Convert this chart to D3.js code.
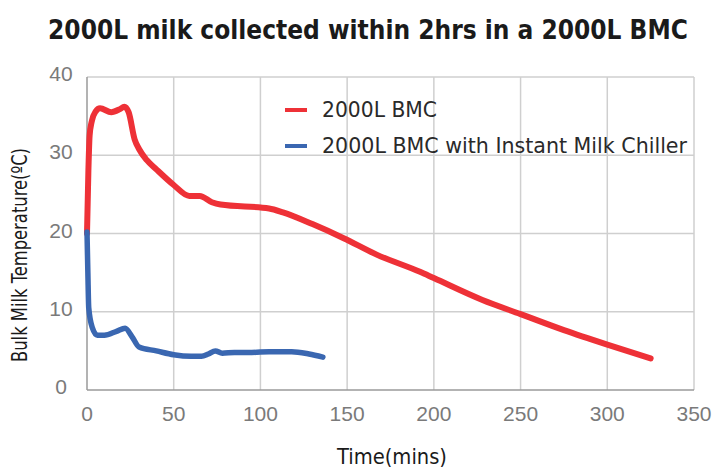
<!DOCTYPE html>
<html><head><meta charset="utf-8">
<script src="https://cdn.jsdelivr.net/npm/d3@7"></script>
<style>body{margin:0;background:#fff}svg{display:block}</style>
</head><body>
<svg id="chart" width="717" height="468"></svg>
<script>
const title = "2000L milk collected within 2hrs in a 2000L BMC";
const xTicks = [0,50,100,150,200,250,300,350];
const yTicks = [0,10,20,30,40];
const seriesNames = ["2000L BMC","2000L BMC with Instant Milk Chiller"];
const seriesColors = ["#ee3137","#3a67b1"];
const bmcTime = [0,0.8,1.5,2.7,5,7.5,14,19,21.5,24,27.5,30,34.4,40,50,59,65,72,77,105,113,130,148,167,192,200,228,250,275,300,325];
const bmcTemp = [20,28,32.5,34.3,35.6,36,35.5,35.9,36.2,35.5,32,30.8,29.4,28.2,26.2,24.8,24.8,24,23.7,23.2,22.7,21.2,19.4,17.3,15.1,14.3,11.5,9.7,7.65,5.8,4.05];
const chillTime = [0,0.5,1,3,6,10,17,22,26,30,40,50,60,66,70,74,78,85,95,105,118,128,136];
const chillTemp = [20.2,15,10.5,8,7,7,7.5,7.9,6.8,5.5,5,4.5,4.3,4.3,4.6,5,4.7,4.8,4.8,4.9,4.9,4.6,4.2];

const svg = d3.select("#chart");
const L = 87, R = 694, T = 77, B = 390;
const x = d3.scaleLinear().domain([0,350]).range([L,R]);
const y = d3.scaleLinear().domain([0,40]).range([B,T]);

const labFont = "'Liberation Sans Narrow','DejaVu Sans Condensed','Liberation Sans'";
const tt = svg.append("text").attr("x",368).attr("y",39).attr("text-anchor","middle")
  .attr("font-family",labFont)
  .attr("font-weight","bold").attr("font-size",29).attr("fill","#1a1a1a").text(title);
const w = tt.node().getComputedTextLength();
if (w > 0) tt.attr("font-size", Math.min(32, 29*640/w));

// grid
svg.append("g").selectAll("line").data(yTicks.filter(d=>d>0)).join("line")
  .attr("x1",L).attr("x2",R).attr("y1",d=>y(d)).attr("y2",d=>y(d))
  .attr("stroke","#cfcfcf").attr("stroke-width",1.5);
svg.append("g").selectAll("line").data(xTicks.filter(d=>d>0)).join("line")
  .attr("y1",T).attr("y2",B).attr("x1",d=>x(d)).attr("x2",d=>x(d))
  .attr("stroke","#cfcfcf").attr("stroke-width",1.5);
svg.append("line").attr("x1",L).attr("x2",R).attr("y1",B).attr("y2",B).attr("stroke","#9a9a9a").attr("stroke-width",1.5);
svg.append("line").attr("x1",L).attr("x2",L).attr("y1",T).attr("y2",B).attr("stroke","#9a9a9a").attr("stroke-width",1.5);

const tickFont = "'Liberation Sans','DejaVu Sans',sans-serif";
svg.append("g").selectAll("text").data(yTicks).join("text")
  .attr("x",61).attr("y",d=>y(d)+4).attr("text-anchor","middle")
  .attr("font-family",tickFont).attr("font-size",21).attr("fill","#7a7a7a").text(d=>d);
svg.append("g").selectAll("text").data(xTicks).join("text")
  .attr("x",d=>x(d)).attr("y",421).attr("text-anchor","middle")
  .attr("font-family",tickFont).attr("font-size",21).attr("fill","#7a7a7a").text(d=>d);

svg.append("text").attr("x",392).attr("y",464).attr("text-anchor","middle")
  .attr("font-family",labFont).attr("font-size",21).attr("fill","#1a1a1a")
  .attr("textLength",110).attr("lengthAdjust","spacingAndGlyphs").text("Time(mins)");
svg.append("text").attr("transform","translate(27,255) rotate(-90)").attr("text-anchor","middle")
  .attr("font-family",labFont).attr("font-size",21).attr("fill","#1a1a1a")
  .attr("textLength",214).attr("lengthAdjust","spacingAndGlyphs").text("Bulk Milk Temperature(ºC)");

const line = d3.line().x(d=>x(d[0])).y(d=>y(d[1])).curve(d3.curveMonotoneX);
const data = [d3.zip(bmcTime,bmcTemp), d3.zip(chillTime,chillTemp)];
svg.append("path").datum(data[0]).attr("d",line).attr("fill","none")
  .attr("stroke",seriesColors[0]).attr("stroke-width",6).attr("stroke-linejoin","round").attr("stroke-linecap","round");
svg.append("path").datum(data[1]).attr("d",line).attr("fill","none")
  .attr("stroke",seriesColors[1]).attr("stroke-width",5.5).attr("stroke-linejoin","round").attr("stroke-linecap","round");

const leg = svg.append("g");
seriesNames.forEach((n,i)=>{
  const yy = 110 + i*36;
  leg.append("line").attr("x1",285).attr("x2",307).attr("y1",yy).attr("y2",yy)
    .attr("stroke",seriesColors[i]).attr("stroke-width",4);
  leg.append("text").attr("x",322).attr("y",yy+7).attr("font-family",labFont)
    .attr("font-size",21).attr("fill","#2a2a2a")
    .attr("textLength", i===0?115:365).attr("lengthAdjust","spacingAndGlyphs").text(n);
});
</script>
</body></html>
